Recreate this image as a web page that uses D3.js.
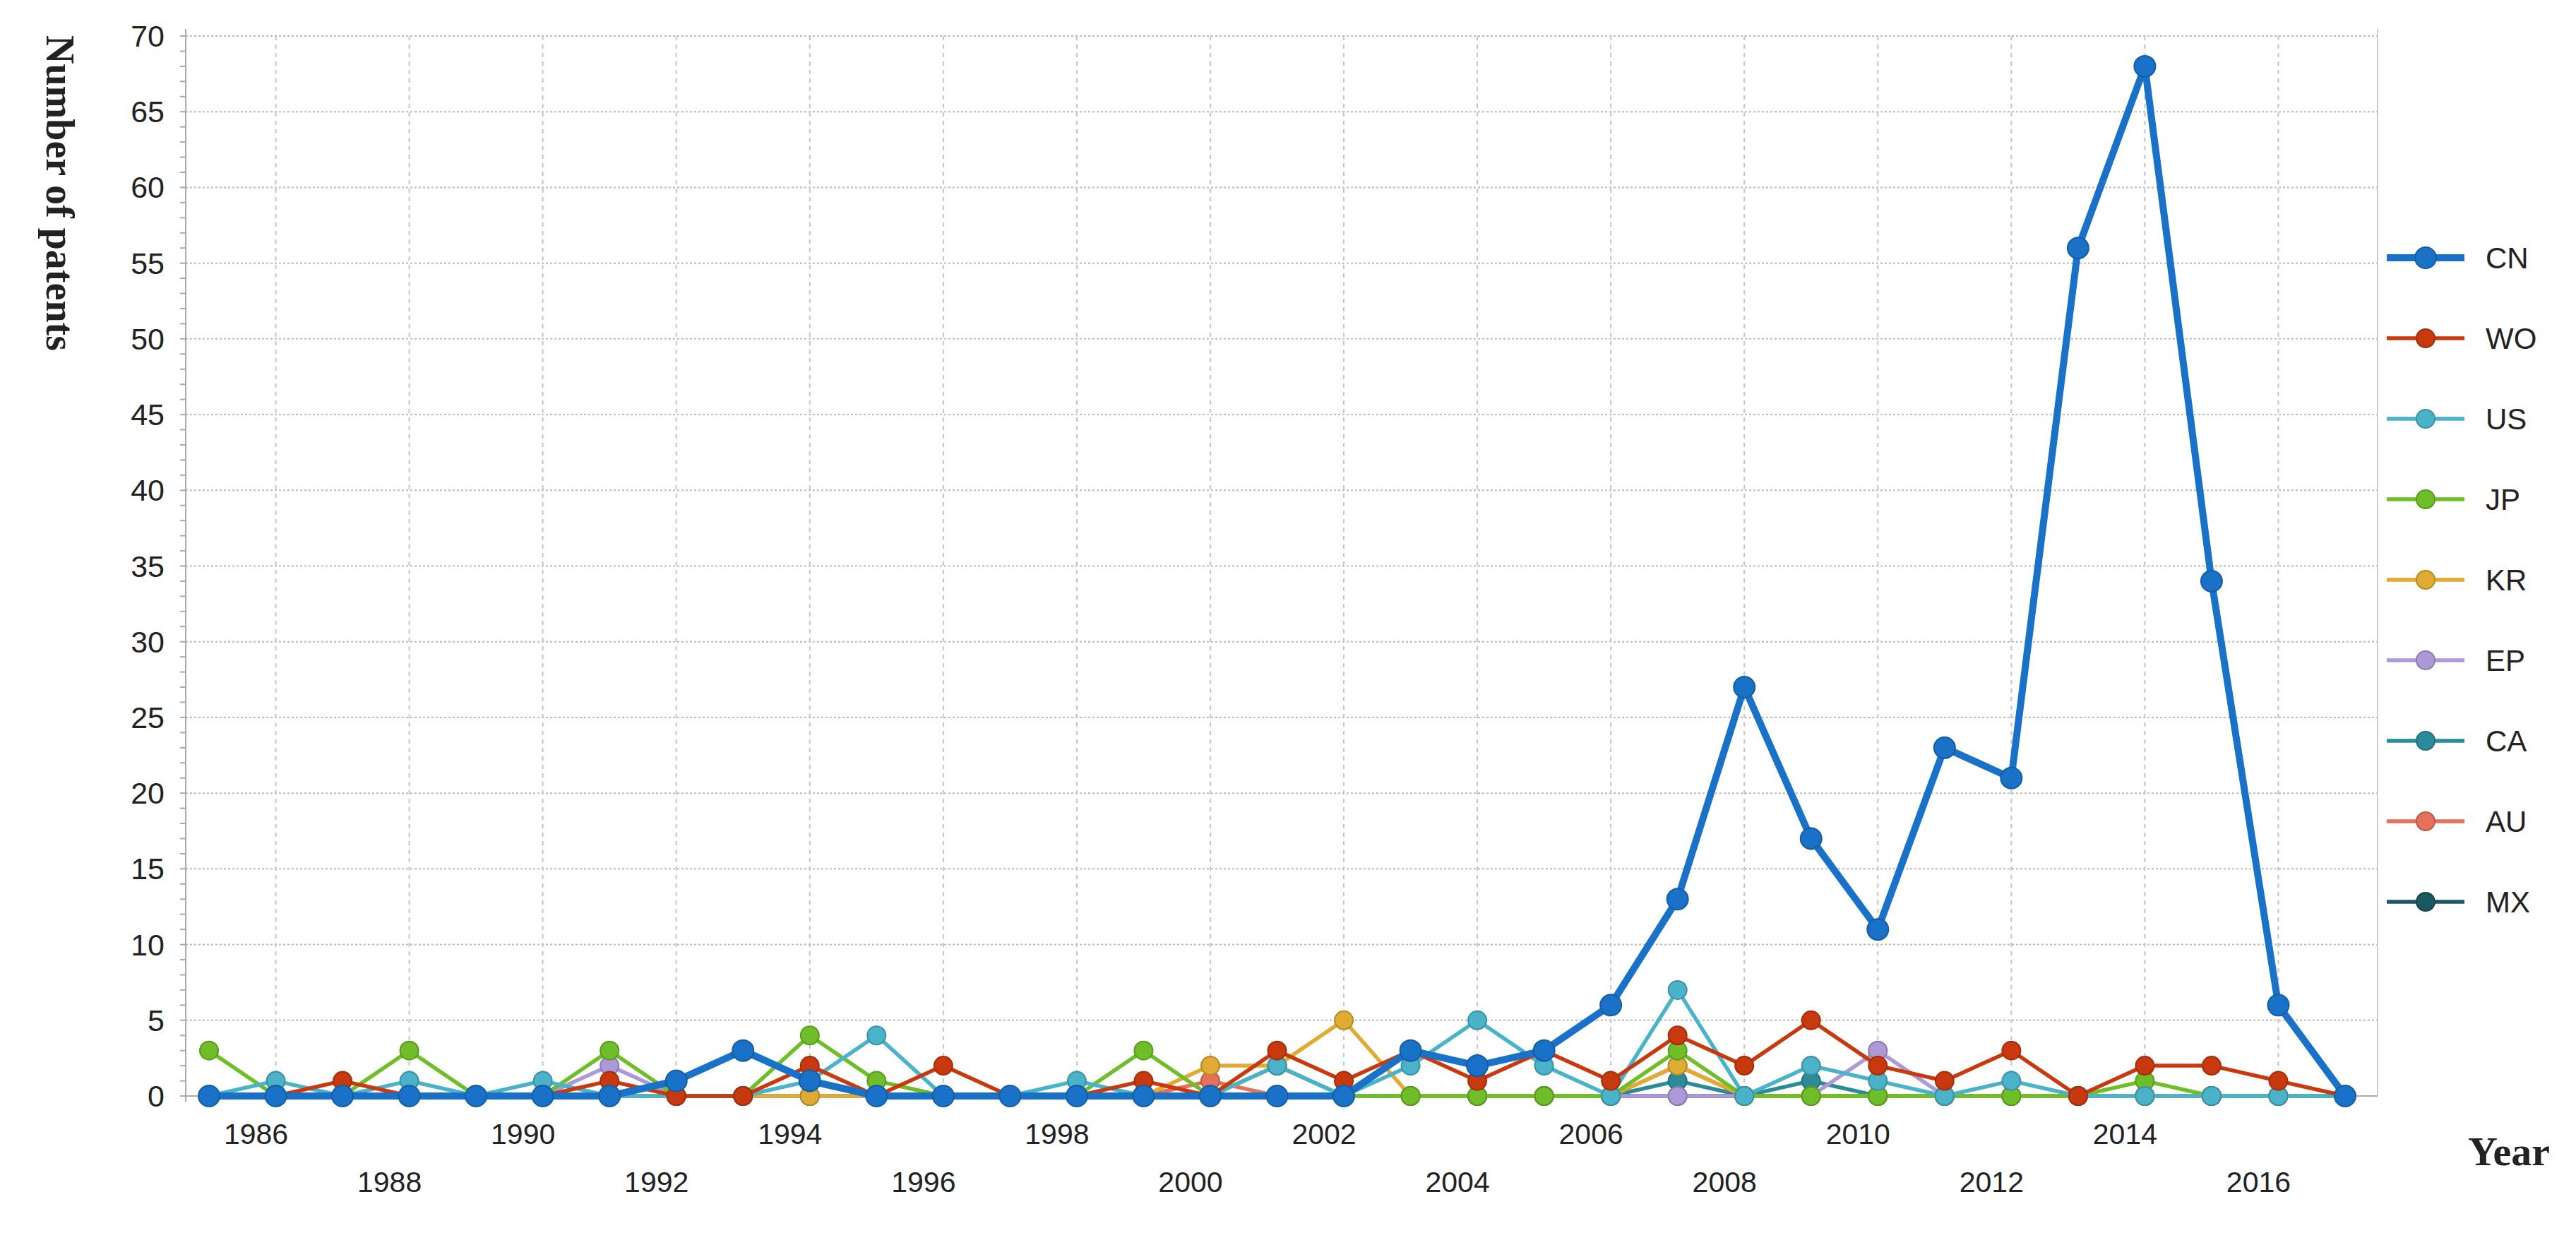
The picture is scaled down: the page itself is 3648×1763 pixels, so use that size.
<!DOCTYPE html>
<html>
<head>
<meta charset="utf-8">
<script src="https://cdn.jsdelivr.net/npm/d3@7"></script>
<style>
    body { margin: 0; background: #fff; }
    text { font-family: Arial, "Liberation Sans", sans-serif; }
    text.serif { font-family: "Liberation Serif", "DejaVu Serif", serif; }
</style>
</head>
<body>
<svg id="chart" width="3648" height="1763"></svg>
<script>
var years = d3.range(1985, 2018);
var countries = ["CN", "WO", "US", "JP", "KR", "EP", "CA", "AU", "MX"];
var colors = ["#1a72c8", "#c9390f", "#4ab2c9", "#6fbd28", "#dfab33", "#ad98d8", "#2b8b98", "#e5715a", "#1c5860"];

//                1985 ...                                                  ... 2017
var cn = [0,0,0,0,0,0,0,1,3,1,0,0,0,0,0,0,0,0,3,2,3,6,13,27,17,11,23,21,56,68,34,6,0];
var wo = [0,0,1,0,0,0,1,0,0,2,0,2,0,0,1,0,3,1,3,1,3,1,4,2,5,2,1,3,0,2,2,1,0];
var us = [0,1,0,1,0,1,0,0,0,1,4,0,0,1,0,0,2,0,2,5,2,0,7,0,2,1,0,1,0,0,0,0,0];
var jp = [3,0,0,3,0,0,3,0,0,4,1,0,0,0,3,0,2,0,0,0,0,0,3,0,0,0,0,0,0,1,0,0,0];
var kr = [0,0,0,0,0,0,0,0,0,0,0,0,0,0,0,2,2,5,0,0,0,0,2,0,0,0,0,0,0,0,0,0,0];
var ep = [0,0,0,0,0,0,2,0,0,0,0,0,0,0,0,0,2,0,0,0,0,0,0,0,0,3,0,0,0,0,0,0,0];
var ca = [0,0,0,0,0,0,0,0,0,0,0,0,0,0,0,0,0,0,0,0,0,0,1,0,1,0,0,0,0,0,0,0,0];
var au = [0,0,0,0,0,0,0,0,0,0,0,0,0,0,0,1,0,0,0,0,0,0,2,0,0,0,0,0,0,0,0,0,0];
var mx = [0,0,0,0,0,0,0,0,0,0,0,0,0,0,0,0,0,0,0,0,0,0,0,0,0,0,0,0,0,0,0,0,0];
var seriesValues = [cn, wo, us, jp, kr, ep, ca, au, mx];
var yTicks = d3.range(0, 75, 5);
var xTickLabels = d3.range(1986, 2017, 2);

window.onload = function () {
    "use strict";

    var svg = d3.select("#chart"),
        left = 263, right = 3367, top = 51, bottom = 1552,
        x, y, line, series;

    x = d3.scaleLinear().domain([1985, 2017]).range([296, 3321]);
    y = d3.scaleLinear().domain([0, 70]).range([bottom, top]);

    // grid
    svg.append("g").selectAll("line.h")
        .data(yTicks.slice(1))
        .enter().append("line")
        .attr("x1", left).attr("x2", right)
        .attr("y1", function (d) { return y(d); })
        .attr("y2", function (d) { return y(d); })
        .attr("stroke", "#bbb").attr("stroke-width", 2)
        .attr("stroke-dasharray", "3,3");
    svg.append("g").selectAll("line.v")
        .data(d3.range(1986, 2018, 2))
        .enter().append("line")
        .attr("y1", top).attr("y2", bottom)
        .attr("x1", function (d) { return x(d); })
        .attr("x2", function (d) { return x(d); })
        .attr("stroke", "#c4c4c4").attr("stroke-width", 2)
        .attr("stroke-dasharray", "6,6");

    // axes frame
    svg.append("line").attr("x1", left).attr("x2", left).attr("y1", top - 10).attr("y2", bottom + 8)
        .attr("stroke", "#aaa").attr("stroke-width", 2);
    svg.append("line").attr("x1", right).attr("x2", right).attr("y1", top - 10).attr("y2", bottom)
        .attr("stroke", "#ccc").attr("stroke-width", 2);
    svg.append("line").attr("x1", left).attr("x2", right).attr("y1", bottom).attr("y2", bottom)
        .attr("stroke", "#aaa").attr("stroke-width", 2);
    svg.append("g").selectAll("line")
        .data(d3.range(0, 71))
        .enter().append("line")
        .attr("x1", left - 8).attr("x2", left)
        .attr("y1", function (d) { return y(d); })
        .attr("y2", function (d) { return y(d); })
        .attr("stroke", "#aaa").attr("stroke-width", 2);

    svg.append("g").selectAll("text")
        .data(yTicks)
        .enter().append("text")
        .attr("x", 233).attr("y", function (d) { return y(d) + 15; })
        .attr("text-anchor", "end")
        .attr("font-size", 43).attr("fill", "#222")
        .text(function (d) { return d; });

    svg.append("g").selectAll("text")
        .data(xTickLabels)
        .enter().append("text")
        .attr("x", function (d) { return x(d) - 28; })
        .attr("y", function (d, i) { return i % 2 === 0 ? 1620 : 1688; })
        .attr("text-anchor", "middle")
        .attr("font-size", 41).attr("fill", "#222")
        .text(function (d) { return d; });

    svg.append("text")
        .attr("class", "serif")
        .attr("transform", "translate(66,50) rotate(90)")
        .attr("font-weight", "bold")
        .attr("font-size", 56).attr("fill", "#222")
        .text("Number of patents");
    svg.append("text")
        .attr("class", "serif")
        .attr("x", 3553).attr("y", 1650).attr("text-anchor", "middle")
        .attr("font-weight", "bold")
        .attr("font-size", 58).attr("fill", "#222")
        .text("Year");

    line = d3.line()
        .x(function (d, i) { return x(years[i]); })
        .y(function (d) { return y(d); });

    series = svg.append("g").selectAll("g")
        .data(countries.map(function (c, i) { return {name: c, values: seriesValues[i], color: colors[i], big: i === 0}; }).reverse())
        .enter().append("g");

    series.append("path")
        .attr("d", function (d) { return line(d.values); })
        .attr("fill", "none")
        .attr("stroke", function (d) { return d.color; })
        .attr("stroke-width", function (d) { return d.big ? 10 : 5.5; })
        .attr("stroke-linejoin", "round");

    series.selectAll("circle")
        .data(function (d) { return d.values.map(function (v, i) { return {v: v, i: i, d: d}; }); })
        .enter().append("circle")
        .attr("cx", function (p) { return x(years[p.i]); })
        .attr("cy", function (p) { return y(p.v); })
        .attr("r", function (p) { return p.d.big ? 15 : 13; })
        .attr("fill", function (p) { return p.d.color; })
        .attr("stroke", function (p) { return d3.color(p.d.color).darker(0.6); })
        .attr("stroke-width", 2);

    // legend
    var leg = svg.append("g").selectAll("g")
        .data(countries)
        .enter().append("g")
        .attr("transform", function (d, i) { return "translate(3380," + (365 + i * 114) + ")"; });
    leg.append("line")
        .attr("x1", 0).attr("x2", 110)
        .attr("stroke", function (d, i) { return colors[i]; })
        .attr("stroke-width", function (d, i) { return i === 0 ? 10 : 5.5; });
    leg.append("circle")
        .attr("cx", 55).attr("r", function (d, i) { return i === 0 ? 15 : 13; })
        .attr("fill", function (d, i) { return colors[i]; })
        .attr("stroke", function (d, i) { return d3.color(colors[i]).darker(0.6); })
        .attr("stroke-width", 2);
    leg.append("text")
        .attr("x", 140).attr("y", 15)
        .attr("font-size", 42).attr("fill", "#222")
        .text(function (d) { return d; });
};
</script>
</body>
</html>
